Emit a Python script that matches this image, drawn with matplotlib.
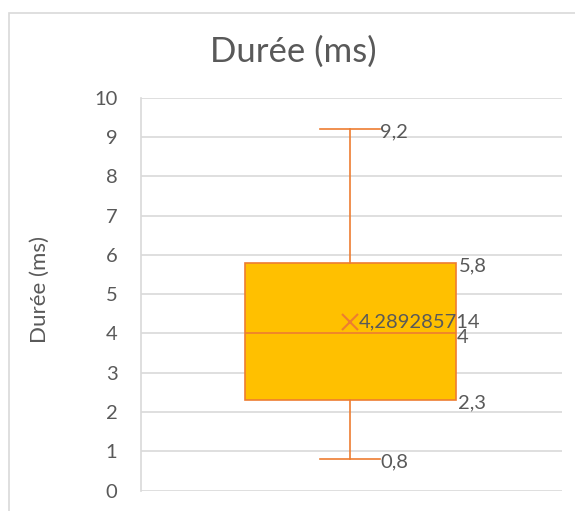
import matplotlib.pyplot as plt
from matplotlib.patches import Rectangle

# box statistics (ms)
whisker_low = 0.8
q1 = 2.3
median = 4
q3 = 5.8
whisker_high = 9.2
mean = 4.289285714
y_ticks = [0, 1, 2, 3, 4, 5, 6, 7, 8, 9, 10]

orange = '#ED7D31'
fill = '#FFC000'
text_col = '#595959'
grid_col = '#D9D9D9'
font = ['Lato', 'DejaVu Sans']

plt.rcParams['font.family'] = font


def fr(v):
    return f'{v:g}'.replace('.', ',') if v != mean else f'{v:.9f}'.replace('.', ',')


fig = plt.figure(figsize=(5.75, 5.11), dpi=100)
ax = fig.add_axes([141 / 575, 20.3 / 511, 421 / 575, 393 / 511])

stats = [{'whislo': whisker_low, 'q1': q1, 'med': median, 'q3': q3,
          'whishi': whisker_high, 'mean': mean}]
ax.bxp(stats, positions=[1], widths=1.0, capwidths=0.285, showmeans=True,
       patch_artist=True, showfliers=False,
       boxprops=dict(facecolor=fill, edgecolor=orange, linewidth=1.2),
       medianprops=dict(color=orange, linewidth=1.2),
       whiskerprops=dict(color=orange, linewidth=1.2),
       capprops=dict(color=orange, linewidth=1.2),
       meanprops=dict(marker='x', markeredgecolor=orange, markersize=12,
                      markeredgewidth=1.5))

ax.set_xlim(0.005, 2.005)
ax.set_ylim(0, 10)
ax.set_yticks(y_ticks)
ax.set_xticks([])
ax.yaxis.grid(True, color=grid_col, linewidth=1.2)
ax.set_axisbelow(True)
for s in ['top', 'right', 'bottom']:
    ax.spines[s].set_visible(False)
ax.spines['left'].set_color(grid_col)
ax.spines['left'].set_linewidth(1.2)
ax.tick_params(axis='y', length=0, pad=17, labelsize=14.5, labelcolor=text_col)

# data labels
kw = dict(fontsize=14.5, color=text_col, ha='left', va='center',
          textcoords='offset points')
cap_end = 1 + 0.285 / 2
box_end = 1.5
ax.annotate(fr(whisker_high), (cap_end, whisker_high), xytext=(0, -2), **kw)
ax.annotate(fr(whisker_low), (cap_end, whisker_low), xytext=(0, -2), **kw)
ax.annotate(fr(q3), (box_end, q3), xytext=(2, -2), **kw)
ax.annotate(fr(q1), (box_end, q1), xytext=(2, -2), **kw)
ax.annotate(fr(median), (box_end, median), xytext=(1, -3), **kw)
ax.annotate(fr(mean), (1, mean), xytext=(6, 0), **kw)

fig.text(0.5104, 1 - 62 / 511, 'Durée (ms)', fontsize=25, color=text_col,
         ha='center', va='baseline')
fig.text(40 / 575, 1 - 289 / 511, 'Durée (ms)', fontsize=16, color=text_col,
         rotation=90, ha='center', va='center')

fig.add_artist(Rectangle((8.5 / 575, -0.1), 1.2, 1.1 - 13 / 511,
                         transform=fig.transFigure, fill=False,
                         edgecolor=grid_col, linewidth=1.2))

fig.savefig('out.png', dpi=100)
